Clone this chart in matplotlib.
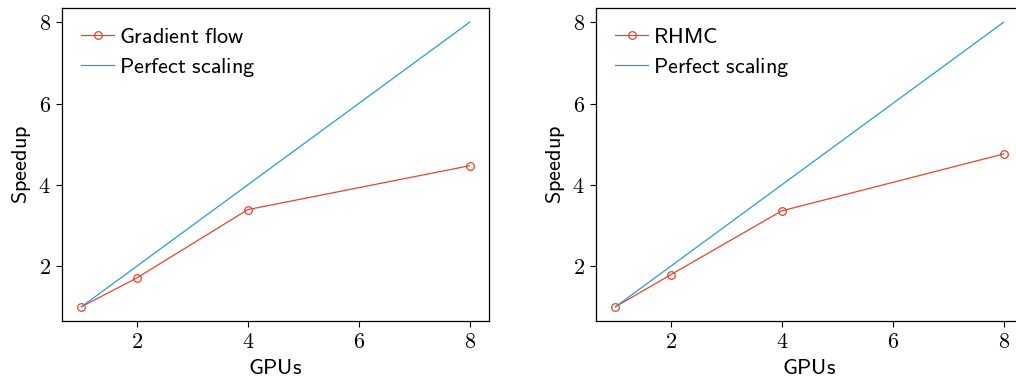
import matplotlib
matplotlib.use('Agg')
import matplotlib.pyplot as plt

plt.rcParams['mathtext.fontset'] = 'cm'
plt.rcParams['font.size'] = 16

gpus = [1, 2, 4, 8]
perfect = [1, 2, 4, 8]
gradient_flow = [1.0, 1.71, 3.39, 4.47]
rhmc = [1.0, 1.79, 3.36, 4.76]
panels = [('Gradient flow', gradient_flow), ('RHMC', rhmc)]

red = '#e5452f'
blue = '#2b9bd3'


def sf(s):
    return r'$\mathsf{' + s.replace(' ', r'\ ') + '}$'


fig = plt.figure(figsize=(10.16, 3.86), dpi=100)
W, H = 1016, 386
boxes = [(62, 8, 489, 321), (596, 8, 1023, 321)]

for (name, speedup), (x0, y0, x1, y1) in zip(panels, boxes):
    ax = fig.add_axes([x0 / W, 1 - y1 / H, (x1 - x0) / W, (y1 - y0) / H])
    ax.plot(gpus, speedup, c=red, lw=0.9, marker='o', ms=5.5, mfc='none',
            mew=0.9, label=sf(name))
    ax.plot(gpus, perfect, c=blue, lw=0.9, label=sf('Perfect scaling'))
    ax.set_xticks([2, 4, 6, 8])
    ax.set_yticks([2, 4, 6, 8])
    ax.set_xticklabels([f'${t}$' for t in [2, 4, 6, 8]])
    ax.set_yticklabels([f'${t}$' for t in [2, 4, 6, 8]])
    ax.set_xlabel(sf('GPUs'), labelpad=4)
    ax.set_ylabel(sf('Speedup'), labelpad=4)
    ax.tick_params(length=4, width=0.8, pad=4)
    for sp in ax.spines.values():
        sp.set_linewidth(0.9)
    ax.legend(loc='upper left', frameon=False, handlelength=1.5,
              handletextpad=0.2, labelspacing=0.4, borderaxespad=0.45)

fig.savefig('out.png', dpi=100)
